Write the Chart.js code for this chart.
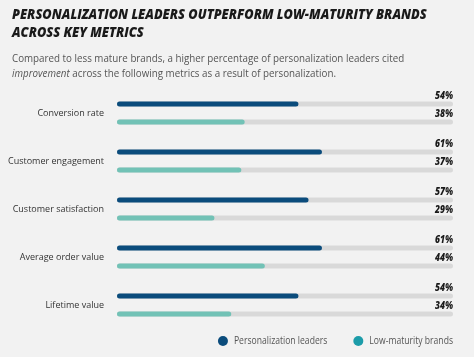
<!DOCTYPE html>
<html><head><meta charset="utf-8">
<script src="https://cdn.jsdelivr.net/npm/chart.js@4/dist/chart.umd.min.js"></script>
<style>
html,body{margin:0;padding:0;background:#f2f2f2;width:474px;height:357px;overflow:hidden;}
#wrap{position:relative;width:474px;height:357px;}
canvas{position:absolute;left:0;top:0;}
.title{position:absolute;left:12px;top:5px;font-family:'Open Sans',sans-serif;font-weight:800;font-style:italic;font-size:14px;line-height:18px;color:#1a1a1a;white-space:nowrap;transform:scaleX(0.91);transform-origin:0 0;}
.sub{position:absolute;left:12px;top:50px;font-family:'Open Sans',sans-serif;font-size:11px;line-height:15px;color:#555;white-space:nowrap;transform:scaleX(0.89);transform-origin:0 0;}
</style></head><body>
<div id="wrap">
<canvas id="c" width="474" height="357" style="width:474px;height:357px"></canvas>
<div class="title">PERSONALIZATION LEADERS OUTPERFORM LOW-MATURITY BRANDS<br>ACROSS KEY METRICS</div>
<div class="sub">Compared to less mature brands, a higher percentage of personalization leaders cited<br><i>improvement</i> across the following metrics as a result of personalization.</div>
</div>
<script>
const categories = ['Conversion rate','Customer engagement','Customer satisfaction','Average order value','Lifetime value'];
const leaders = [54, 61, 57, 61, 54];
const lowMaturity = [38, 37, 29, 44, 34];
const seriesNames = ['Personalization leaders', 'Low-maturity brands'];

const barColors = ['#0b4c7c', '#72c2b6'];
const legendColors = ['#0b4c7c', '#1c9ca9'];
const squeeze = 0.86;

const trackPlugin = {
  id: 'track',
  beforeDatasetsDraw(chart) {
    const {ctx, scales: {x}} = chart;
    const x0 = x.getPixelForValue(0), x1 = x.getPixelForValue(100);
    ctx.save();
    ctx.fillStyle = '#d9d9d9';
    chart.data.datasets.forEach((ds, i) => {
      chart.getDatasetMeta(i).data.forEach(bar => {
        const h = bar.height;
        ctx.beginPath();
        ctx.roundRect(x0, bar.y - h / 2, x1 - x0, h, h / 2);
        ctx.fill();
      });
    });
    ctx.restore();
  }
};

const valuePlugin = {
  id: 'values',
  afterDatasetsDraw(chart) {
    const {ctx, scales: {x}} = chart;
    const xr = x.getPixelForValue(100);
    chart.data.datasets.forEach((ds, i) => {
      chart.getDatasetMeta(i).data.forEach((bar, j) => {
        ctx.save();
        ctx.font = 'italic 800 10px "Open Sans"';
        ctx.fillStyle = '#1a1a1a';
        ctx.textAlign = 'right';
        ctx.textBaseline = 'middle';
        ctx.translate(xr, bar.y - 8);
        ctx.scale(squeeze, 1);
        ctx.fillText(ds.data[j] + '%', 0, 0);
        ctx.restore();
      });
    });
  }
};

const legendPlugin = {
  id: 'customLegend',
  afterDraw(chart) {
    const {ctx, scales: {x}} = chart;
    const right = x.getPixelForValue(100);
    const y = 341;
    let cursor = right;
    const items = chart.data.datasets.map((ds, i) => ({text: ds.label, color: legendColors[i]}));
    for (let i = items.length - 1; i >= 0; i--) {
      ctx.save();
      ctx.font = '10px "Open Sans"';
      ctx.textBaseline = 'middle';
      ctx.textAlign = 'left';
      const w = ctx.measureText(items[i].text).width * squeeze;
      const tx = cursor - w;
      const cx = tx - 11;
      ctx.fillStyle = items[i].color;
      ctx.beginPath();
      ctx.arc(cx, y, 5, 0, Math.PI * 2);
      ctx.fill();
      ctx.fillStyle = '#555';
      ctx.translate(tx, y);
      ctx.scale(squeeze, 1);
      ctx.fillText(items[i].text, 0, 0);
      ctx.restore();
      cursor = cx - 31;
    }
  }
};

new Chart(document.getElementById('c'), {
  type: 'bar',
  data: {
    labels: categories,
    datasets: [
      {label: seriesNames[0], data: leaders, backgroundColor: barColors[0]},
      {label: seriesNames[1], data: lowMaturity, backgroundColor: barColors[1]}
    ]
  },
  options: {
    indexAxis: 'y',
    responsive: false,
    animation: false,
    devicePixelRatio: 1,
    layout: {padding: {top: 89, right: 21, bottom: 28, left: 0}},
    datasets: {
      bar: {
        categoryPercentage: 0.75,
        barPercentage: 0.28,
        borderRadius: 3,
        borderSkipped: false
      }
    },
    scales: {
      x: {display: false, min: 0, max: 100},
      y: {
        grid: {display: false, drawTicks: false},
        border: {display: false},
        ticks: {
          padding: 13,
          color: '#333',
          font: {family: '"Open Sans"', size: 9}
        },
        afterFit(scale) { scale.width = 117; }
      }
    },
    plugins: {
      legend: {display: false},
      tooltip: {enabled: false}
    }
  },
  plugins: [trackPlugin, valuePlugin, legendPlugin]
});
</script>
</body></html>
